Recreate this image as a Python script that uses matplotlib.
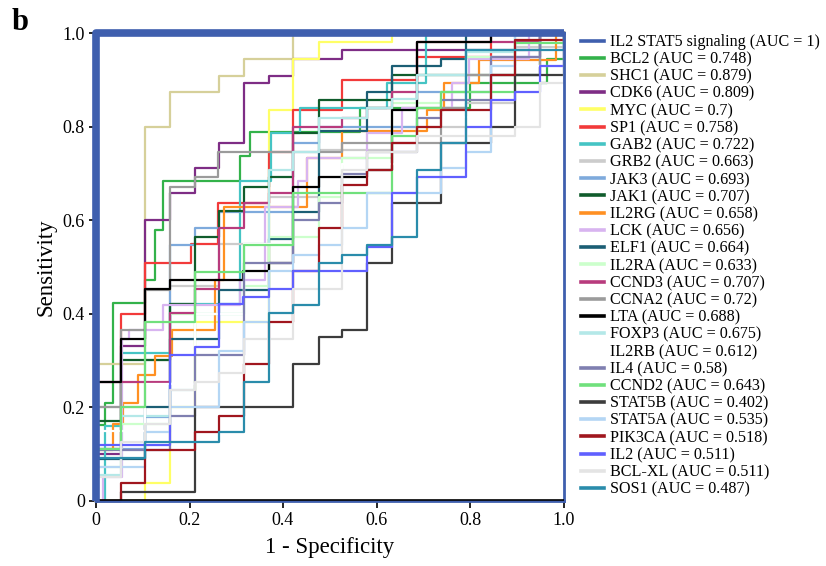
import matplotlib
matplotlib.use("Agg")
import matplotlib.pyplot as plt
from matplotlib.lines import Line2D

plt.rcParams['font.family'] = ['Liberation Serif', 'DejaVu Serif']

# ROC curves as step corners: at fpr x[i] the tpr jumps to y[i]
names = ["IL2 STAT5 signaling", "BCL2", "SHC1", "CDK6", "MYC", "SP1", "GAB2", "GRB2",
         "JAK3", "JAK1", "IL2RG", "LCK", "ELF1", "IL2RA", "CCND3", "CCNA2", "LTA",
         "FOXP3", "IL2RB", "IL4", "CCND2", "STAT5B", "STAT5A", "PIK3CA", "IL2",
         "BCL-XL", "SOS1"]
aucs = ["1", "0.748", "0.879", "0.809", "0.7", "0.758", "0.722", "0.663", "0.693",
        "0.707", "0.658", "0.656", "0.664", "0.633", "0.707", "0.72", "0.688",
        "0.675", "0.612", "0.58", "0.643", "0.402", "0.535", "0.518", "0.511",
        "0.511", "0.487"]
colors = ["#3f5fae", "#33b24a", "#d6d09a", "#7e2d85", "#ffff66", "#f23a3a", "#45c4c4",
          "#cccccc", "#7eaadc", "#105c2c", "#ff9022", "#d8b4f0", "#1b5e74", "#ccffcc",
          "#b83b7d", "#9b9b9b", "#000000", "#b4e8e8", "#ffffff", "#7f7fb0", "#70e07c",
          "#3c3c3c", "#b4d6f4", "#a0161e", "#6060ff", "#e4e4e4", "#2a8cab"]

il2stat5_x = [0]
il2stat5_y = [1.0]
bcl2_x = [0, 0.019, 0.037, 0.105, 0.126, 0.144, 0.308, 0.330, 0.565, 0.801, 0.965]
bcl2_y = [0.163, 0.21, 0.422, 0.472, 0.579, 0.683, 0.737, 0.788, 0.84, 0.893, 0.946]
shc1_x = [0, 0.105, 0.158, 0.264, 0.317, 0.422]
shc1_y = [0.292, 0.80, 0.875, 0.909, 0.946, 1.0]
cdk6_x = [0, 0.053, 0.105, 0.158, 0.212, 0.264, 0.317, 0.369, 0.422, 0.526, 0.949]
cdk6_y = [0.1, 0.33, 0.60, 0.658, 0.711, 0.765, 0.893, 0.909, 0.946, 0.964, 1.0]
myc_x = [0.105, 0.158, 0.212, 0.369, 0.422, 0.476, 0.633]
myc_y = [0.037, 0.2, 0.382, 0.836, 0.946, 0.982, 1.0]
sp1_x = [0, 0.053, 0.105, 0.204, 0.262, 0.369, 0.422, 0.526, 0.687, 0.844]
sp1_y = [0.11, 0.40, 0.509, 0.55, 0.636, 0.745, 0.836, 0.90, 0.95, 1.0]
gab2_x = [0.02, 0.053, 0.158, 0.308, 0.375, 0.437, 0.622, 0.706]
gab2_y = [0.16, 0.315, 0.42, 0.683, 0.786, 0.84, 0.893, 1.0]
grb2_x = [0, 0.105, 0.158, 0.264, 0.369, 0.476, 0.633, 0.792, 0.897]
grb2_y = [0.2, 0.3, 0.46, 0.55, 0.65, 0.75, 0.80, 0.85, 0.97]
jak3_x = [0, 0.105, 0.158, 0.212, 0.264, 0.422, 0.476, 0.687, 0.844, 0.949]
jak3_y = [0.11, 0.18, 0.547, 0.583, 0.618, 0.765, 0.80, 0.875, 0.95, 1.0]
jak1_x = [0, 0.053, 0.158, 0.212, 0.264, 0.317, 0.369, 0.422, 0.476, 0.633, 0.949]
jak1_y = [0.17, 0.30, 0.42, 0.565, 0.62, 0.672, 0.693, 0.786, 0.857, 0.911, 1.0]
il2rg_x = [0, 0.037, 0.058, 0.09, 0.126, 0.163, 0.255, 0.273, 0.451, 0.526, 0.709, 0.744, 0.819, 0.983]
il2rg_y = [0.108, 0.164, 0.21, 0.27, 0.31, 0.365, 0.472, 0.629, 0.733, 0.79, 0.836, 0.893, 0.943, 1.0]
lck_x = [0.016, 0.055, 0.071, 0.144, 0.308, 0.362, 0.433, 0.451, 0.58, 0.655, 0.762, 0.797, 0.926]
lck_y = [0.051, 0.345, 0.365, 0.419, 0.472, 0.629, 0.683, 0.733, 0.786, 0.84, 0.893, 0.946, 1.0]
elf1_x = [0, 0.105, 0.158, 0.264, 0.369, 0.422, 0.476, 0.58, 0.633, 0.738, 0.792]
elf1_y = [0.09, 0.2, 0.346, 0.45, 0.56, 0.618, 0.79, 0.875, 0.929, 0.946, 1.0]
il2ra_x = [0, 0.053, 0.158, 0.317, 0.369, 0.476, 0.526, 0.633, 0.738, 0.792, 0.897]
il2ra_y = [0.073, 0.164, 0.40, 0.46, 0.565, 0.65, 0.733, 0.85, 0.875, 0.95, 1.0]
ccnd3_x = [0, 0.158, 0.212, 0.264, 0.317, 0.369, 0.422, 0.526, 0.58, 0.633, 0.687, 0.949]
ccnd3_y = [0.255, 0.401, 0.454, 0.583, 0.636, 0.658, 0.80, 0.818, 0.84, 0.875, 0.982, 1.0]
ccna2_x = [0, 0.053, 0.105, 0.159, 0.212, 0.262, 0.526, 0.738, 0.792, 0.949]
ccna2_y = [0.2, 0.365, 0.45, 0.672, 0.693, 0.747, 0.765, 0.84, 0.911, 1.0]
lta_x = [0, 0.053, 0.105, 0.159, 0.315, 0.369, 0.422, 0.476, 0.58, 0.633, 0.687, 0.844]
lta_y = [0.255, 0.346, 0.454, 0.472, 0.492, 0.508, 0.672, 0.693, 0.708, 0.836, 0.982, 1.0]
foxp3_x = [0, 0.053, 0.158, 0.212, 0.317, 0.369, 0.422, 0.476, 0.58, 0.633, 0.687, 0.792, 0.897]
foxp3_y = [0.055, 0.182, 0.237, 0.40, 0.55, 0.708, 0.747, 0.818, 0.84, 0.86, 0.911, 0.96, 1.0]
il2rb_x = [0, 0.105, 0.212, 0.317, 0.422, 0.526, 0.687, 0.844]
il2rb_y = [0.15, 0.25, 0.40, 0.55, 0.6, 0.72, 0.82, 0.93]
il4_x = [0, 0.158, 0.212, 0.317, 0.422, 0.476, 0.526, 0.58, 0.687, 0.738, 0.844, 0.949]
il4_y = [0.108, 0.182, 0.312, 0.508, 0.600, 0.636, 0.70, 0.745, 0.818, 0.857, 0.95, 1.0]
ccnd2_x = [0, 0.053, 0.105, 0.212, 0.317, 0.422, 0.633, 0.687, 0.738, 0.897]
ccnd2_y = [0.11, 0.2, 0.383, 0.49, 0.547, 0.658, 0.78, 0.84, 0.875, 0.98]
stat5b_x = [0.053, 0.212, 0.422, 0.476, 0.526, 0.58, 0.633, 0.738, 0.844, 0.897]
stat5b_y = [0.019, 0.201, 0.292, 0.35, 0.365, 0.508, 0.636, 0.765, 0.80, 0.91]
stat5a_x = [0, 0.105, 0.158, 0.264, 0.317, 0.369, 0.422, 0.476, 0.526, 0.58, 0.738, 0.792, 0.844, 0.897]
stat5a_y = [0.073, 0.146, 0.201, 0.32, 0.382, 0.492, 0.526, 0.547, 0.583, 0.658, 0.711, 0.747, 0.929, 1.0]
pik3ca_x = [0.053, 0.105, 0.212, 0.264, 0.317, 0.369, 0.422, 0.476, 0.526, 0.58, 0.633, 0.687, 0.738, 0.844, 0.897]
pik3ca_y = [0.037, 0.108, 0.146, 0.182, 0.292, 0.383, 0.492, 0.583, 0.675, 0.708, 0.765, 0.80, 0.836, 0.911, 0.986]
il2_x = [0, 0.158, 0.212, 0.264, 0.315, 0.369, 0.422, 0.58, 0.633, 0.687, 0.792, 0.844, 0.897, 0.949]
il2_y = [0.12, 0.312, 0.328, 0.42, 0.436, 0.454, 0.492, 0.543, 0.658, 0.693, 0.80, 0.857, 0.875, 0.929]
bclxl_x = [0, 0.053, 0.105, 0.158, 0.212, 0.264, 0.317, 0.422, 0.526, 0.58, 0.687, 0.897, 0.949]
bclxl_y = [0.05, 0.126, 0.164, 0.237, 0.255, 0.273, 0.346, 0.454, 0.708, 0.747, 0.78, 0.80, 0.893]
sos1_x = [0, 0.105, 0.264, 0.317, 0.369, 0.422, 0.476, 0.526, 0.58, 0.633, 0.687, 0.738, 0.792]
sos1_y = [0.091, 0.126, 0.146, 0.255, 0.401, 0.419, 0.508, 0.526, 0.547, 0.565, 0.707, 0.765, 0.965]

curves = [(il2stat5_x, il2stat5_y), (bcl2_x, bcl2_y), (shc1_x, shc1_y), (cdk6_x, cdk6_y),
          (myc_x, myc_y), (sp1_x, sp1_y), (gab2_x, gab2_y), (grb2_x, grb2_y),
          (jak3_x, jak3_y), (jak1_x, jak1_y), (il2rg_x, il2rg_y), (lck_x, lck_y),
          (elf1_x, elf1_y), (il2ra_x, il2ra_y), (ccnd3_x, ccnd3_y), (ccna2_x, ccna2_y),
          (lta_x, lta_y), (foxp3_x, foxp3_y), (il2rb_x, il2rb_y), (il4_x, il4_y),
          (ccnd2_x, ccnd2_y), (stat5b_x, stat5b_y), (stat5a_x, stat5a_y),
          (pik3ca_x, pik3ca_y), (il2_x, il2_y), (bclxl_x, bclxl_y), (sos1_x, sos1_y)]

fig = plt.figure(figsize=(8.26, 5.66), dpi=100)
ax = fig.add_axes([96/826, 1-500.7/566, 467.5/826, 467.4/566])

handles = []
for i, (xs, ys) in enumerate(curves):
    fx = [0] + xs + [1]
    fy = [0] + ys + [1]
    if i == 0:
        ax.plot(fx, fy, drawstyle='steps-post', color=colors[i], lw=5.5,
                clip_on=False, zorder=10, solid_capstyle='butt')
    else:
        ax.plot(fx, fy, drawstyle='steps-post', color=colors[i], lw=1.6,
                clip_on=False, zorder=2)
    handles.append(Line2D([], [], color=colors[i], lw=2.6,
                          label=f"{names[i]} (AUC = {aucs[i]})"))

ax.set_xlim(0, 1)
ax.set_ylim(0, 1)
for s in ax.spines.values():
    s.set_color("#3f5fae")
    s.set_linewidth(2.0)
ax.axhline(0.002, color='black', lw=1.2, zorder=3)

ticks = [0, 0.2, 0.4, 0.6, 0.8, 1.0]
labels = ["0", "0.2", "0.4", "0.6", "0.8", "1.0"]
ax.set_xticks(ticks)
ax.set_xticklabels(labels)
ax.set_yticks(ticks)
ax.set_yticklabels(labels)
ax.tick_params(axis='both', direction='out', length=5, width=1.2, color='black',
               labelsize=13, pad=3)
ax.set_xlabel("1 - Specificity", fontsize=16.5, labelpad=6)
ax.set_ylabel("Sensitivity", fontsize=16.5, labelpad=4)

ax.legend(handles=handles, loc='upper left', bbox_to_anchor=(1.037, 0.998),
          frameon=False, fontsize=11.6, handlelength=1.45, handletextpad=0.35,
          labelspacing=0.075, borderaxespad=0, borderpad=0)

fig.text(20/826, 1-22/566, "b", fontsize=22, fontweight='bold', va='center', ha='center')

fig.savefig("out.png", dpi=100)
